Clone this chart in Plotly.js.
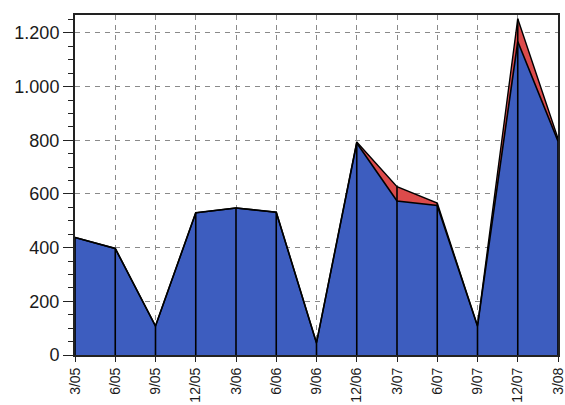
<!DOCTYPE html>
<html>
<head>
<meta charset="utf-8">
<script src="https://cdn.plot.ly/plotly-3.0.1.min.js"></script>
<style>
html,body{margin:0;padding:0;background:#fff;overflow:hidden;}
#chart{width:565px;height:405px;}
</style>
</head>
<body>
<div id="chart"></div>
<script>
const categories = ['3/05','6/05','9/05','12/05','3/06','6/06','9/06','12/06','3/07','6/07','9/07','12/07','3/08'];
const blueValues = [438, 397, 108, 530, 548, 532, 45, 790, 574, 557, 108, 1168, 797];
const redValues  = [0, 0, 0, 0, 0, 0, 0, 4, 53, 9, 0, 85, 10];
const yTickVals = [0, 200, 400, 600, 800, 1000, 1200];
const yTickText = ['0', '200', '400', '600', '800', '1.000', '1.200'];

const totals = blueValues.map((v, i) => v + redValues[i]);
const vx = [], vy = [];
categories.forEach((c, i) => { vx.push(c, c, null); vy.push(0, totals[i], null); });

const data = [
  {
    x: categories, y: blueValues, type: 'scatter', mode: 'lines',
    stackgroup: 'one', fillcolor: '#3d5dbf',
    line: {color: '#000', width: 1.6}, hoverinfo: 'skip'
  },
  {
    x: categories, y: redValues, type: 'scatter', mode: 'lines',
    stackgroup: 'one', fillcolor: '#dc4b4b',
    line: {color: '#000', width: 1.4}, hoverinfo: 'skip'
  },
  {
    x: vx, y: vy, type: 'scatter', mode: 'lines',
    line: {color: '#000', width: 1.6}, hoverinfo: 'skip', connectgaps: false
  }
];

const layout = {
  width: 565, height: 405,
  margin: {l: 75, r: 7, t: 15, b: 50, pad: 0},
  paper_bgcolor: '#fff', plot_bgcolor: '#fff',
  showlegend: false,
  font: {family: '"Liberation Sans", Arial, sans-serif', size: 18, color: '#1a1a1a'},
  xaxis: {
    type: 'category', categoryorder: 'array', categoryarray: categories,
    range: [0, categories.length - 1],
    showgrid: true, gridcolor: '#8a8a8a', gridwidth: 1, griddash: '5px,5px',
    showline: true, linecolor: '#222', linewidth: 2, mirror: true,
    ticks: 'outside', ticklen: 5, tickcolor: '#222', tickwidth: 1,
    tickangle: -90, automargin: false, zeroline: false,
    ticklabelstandoff: 0,
    tickfont: {size: 14}
  },
  yaxis: {
    range: [0, 1267],
    tickvals: yTickVals, ticktext: yTickText,
    showgrid: true, gridcolor: '#8a8a8a', gridwidth: 1, griddash: '5px,5px',
    showline: true, linecolor: '#222', linewidth: 2, mirror: true,
    ticks: 'outside', ticklen: 10, tickcolor: '#222', tickwidth: 1,
    minor: {dtick: 50, tick0: 0, ticks: 'outside', ticklen: 5, tickcolor: '#222', tickwidth: 1, showgrid: false},
    automargin: false, zeroline: false,
    tickfont: {size: 18}
  }
};

Plotly.newPlot('chart', data, layout, {staticPlot: true, displayModeBar: false});
</script>
</body>
</html>
